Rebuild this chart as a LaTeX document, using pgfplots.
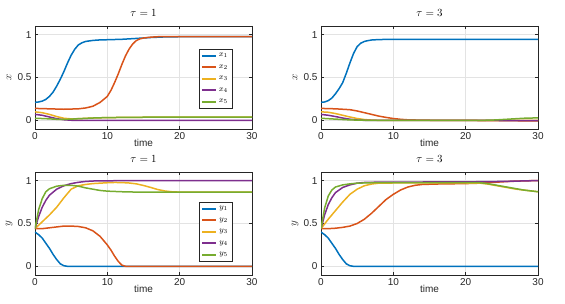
\documentclass[border=0pt]{standalone}
\usepackage{fontspec}
\setmainfont{Liberation Sans}
\usepackage{pgfplots}
\pgfplotsset{compat=1.18}
\definecolor{c1}{rgb}{0,0.447,0.741}
\definecolor{c2}{rgb}{0.85,0.325,0.098}
\definecolor{c3}{rgb}{0.929,0.694,0.125}
\definecolor{c4}{rgb}{0.494,0.184,0.556}
\definecolor{c5}{rgb}{0.466,0.674,0.188}
\definecolor{axc}{rgb}{0.15,0.15,0.15}
\pgfplotsset{
  mystyle/.style={
    scale only axis, width=217pt, height=103pt,
    xmin=0, xmax=30, ymin=-0.1, ymax=1.1,
    xtick={0,10,20,30}, ytick={0,0.5,1},
    yticklabels={0,0.5,1},
    grid=major, grid style={gray!22, line width=0.5pt},
    tick align=inside, major tick length=3pt,
    axis line style={axc, line width=0.6pt},
    tick style={axc, line width=0.5pt},
    ticklabel style={font=\fontsize{10}{11}\selectfont, text=axc},
    /pgf/number format/assume math mode=true,
    xlabel={time},
    xlabel style={font=\fontsize{10}{11}\selectfont, text=axc, at={(axis description cs:0.5,0)}, anchor=north, yshift=-6.5pt},
    ylabel style={font=\fontsize{11}{11}\selectfont, text=axc, at={(axis description cs:-0.12,0.5)}, anchor=center},
    title style={font=\fontsize{11}{12}\selectfont, at={(axis description cs:0.5,1)}, anchor=south, yshift=0pt},
    every axis plot/.append style={line width=1.5pt, no marks},
    legend cell align=left,
  },
  mylegend/.style={legend style={at={#1}, anchor=north east, font=\fontsize{8}{9}\selectfont, draw=axc, inner xsep=2pt, inner ysep=2pt, row sep=2.6pt,
     legend image code/.code={\draw[##1, line width=2pt] (0pt,0pt) -- (14pt,0pt);}}},
}
\begin{document}
\begin{tikzpicture}
\path[use as bounding box] (0,0) rectangle (565pt,303pt);
% top-left
\begin{axis}[mystyle, at={(35pt,174pt)}, anchor=south west, title={$\tau=1$}, ylabel={$x$}, mylegend={(0.908,0.777)}]
\addplot[c1] coordinates {(0,0.21)(0.5,0.215)(1,0.225)(1.5,0.245)(2,0.28)(2.5,0.33)(3,0.4)(3.5,0.48)(4,0.57)(4.5,0.67)(5,0.76)(5.5,0.83)(6,0.88)(6.5,0.905)(7,0.92)(8,0.932)(9,0.938)(10,0.94)(12,0.945)(14,0.955)(16,0.966)(18,0.973)(20,0.975)(30,0.975)};
\addplot[c2] coordinates {(0,0.14)(2,0.135)(4,0.13)(6,0.135)(7,0.145)(8,0.165)(9,0.21)(10,0.28)(10.5,0.35)(11,0.44)(11.5,0.54)(12,0.65)(12.5,0.75)(13,0.83)(13.5,0.89)(14,0.93)(14.5,0.95)(15,0.96)(16,0.97)(17,0.975)(30,0.975)};
\addplot[c3] coordinates {(0,0.1)(1,0.09)(2,0.07)(3,0.045)(4,0.025)(5,0.018)(6,0.02)(8,0.028)(10,0.033)(15,0.037)(20,0.038)(30,0.038)};
\addplot[c4] coordinates {(0,0.07)(1,0.06)(2,0.04)(3,0.02)(4,0.008)(5,0.002)(6,0)(30,0)};
\addplot[c5] coordinates {(0,0.025)(1,0.022)(2,0.018)(3,0.013)(4,0.012)(5,0.015)(6,0.02)(8,0.028)(10,0.033)(15,0.037)(20,0.038)(30,0.038)};
\legend{$x_1$,$x_2$,$x_3$,$x_4$,$x_5$}
\end{axis}
% top-right
\begin{axis}[mystyle, at={(321pt,174pt)}, anchor=south west, title={$\tau=3$}, ylabel={$x$}]
\addplot[c1] coordinates {(0,0.21)(0.5,0.215)(1,0.23)(1.5,0.26)(2,0.31)(2.5,0.37)(3,0.44)(3.5,0.55)(4,0.67)(4.5,0.78)(5,0.86)(5.5,0.9)(6,0.92)(6.5,0.93)(7,0.937)(8,0.942)(10,0.945)(30,0.945)};
\addplot[c2] coordinates {(0,0.14)(2,0.135)(3,0.13)(4,0.125)(5,0.11)(6,0.09)(7,0.07)(8,0.05)(9,0.035)(10,0.022)(11,0.013)(12,0.007)(14,0.003)(16,0.001)(20,0)(25,-0.003)(30,-0.005)};
\addplot[c3] coordinates {(0,0.1)(1,0.095)(2,0.08)(3,0.06)(4,0.04)(5,0.022)(6,0.01)(7,0.004)(8,0.001)(10,0)(30,0)};
\addplot[c4] coordinates {(0,0.07)(1,0.06)(2,0.045)(3,0.028)(4,0.014)(5,0.005)(6,0.001)(8,0)(22,0)(30,-0.003)};
\addplot[c5] coordinates {(0,0.025)(2,0.015)(4,0.006)(6,0.002)(8,0)(22,0)(24,0.005)(26,0.015)(28,0.025)(30,0.03)};
\end{axis}
% bottom-left
\begin{axis}[mystyle, at={(35pt,28pt)}, anchor=south west, title={$\tau=1$}, ylabel={$y$}, mylegend={(0.908,0.709)}]
\addplot[c1] coordinates {(0,0.4)(0.5,0.37)(1,0.33)(1.5,0.27)(2,0.21)(2.5,0.14)(3,0.08)(3.5,0.03)(4,0.008)(4.5,0.001)(5,0)(30,0)};
\addplot[c2] coordinates {(0,0.44)(1,0.44)(2,0.45)(3,0.46)(4,0.47)(5,0.47)(6,0.465)(7,0.45)(8,0.415)(9,0.35)(9.5,0.3)(10,0.25)(10.5,0.19)(11,0.12)(11.5,0.06)(12,0.015)(12.5,0.002)(13,0)(30,0)};
\addplot[c3] coordinates {(0,0.44)(1,0.52)(2,0.6)(3,0.69)(4,0.8)(5,0.9)(6,0.94)(7,0.955)(8,0.965)(10,0.975)(11,0.978)(12,0.977)(13,0.972)(14,0.962)(15,0.943)(16,0.92)(17,0.895)(18,0.878)(19,0.869)(20,0.866)(30,0.865)};
\addplot[c4] coordinates {(0,0.44)(0.5,0.58)(1,0.69)(1.5,0.77)(2,0.83)(3,0.9)(4,0.94)(5,0.965)(6,0.98)(7,0.99)(8,0.995)(10,0.998)(30,1)};
\addplot[c5] coordinates {(0,0.44)(0.5,0.66)(1,0.79)(1.5,0.87)(2,0.905)(3,0.935)(4,0.945)(5,0.945)(6,0.935)(7,0.915)(8,0.9)(9,0.885)(10,0.877)(12,0.87)(14,0.866)(20,0.865)(30,0.865)};
\legend{$y_1$,$y_2$,$y_3$,$y_4$,$y_5$}
\end{axis}
% bottom-right
\begin{axis}[mystyle, at={(321pt,28pt)}, anchor=south west, title={$\tau=3$}, ylabel={$y$}]
\addplot[c1] coordinates {(0,0.4)(0.5,0.37)(1,0.33)(1.5,0.27)(2,0.21)(2.5,0.14)(3,0.08)(3.5,0.03)(4,0.008)(4.5,0.001)(5,0)(30,0)};
\addplot[c2] coordinates {(0,0.44)(1,0.44)(2,0.445)(3,0.455)(4,0.47)(5,0.5)(6,0.55)(7,0.62)(8,0.7)(9,0.78)(10,0.84)(11,0.89)(12,0.925)(13,0.945)(14,0.955)(16,0.96)(20,0.965)(22,0.97)(24,0.98)(26,0.99)(28,0.997)(30,1)};
\addplot[c3] coordinates {(0,0.44)(1,0.55)(2,0.65)(3,0.75)(4,0.84)(5,0.9)(6,0.94)(7,0.96)(8,0.97)(10,0.972)(20,0.972)(22,0.97)(23,0.96)(24,0.945)(25,0.93)(26,0.915)(27,0.9)(28,0.89)(29,0.88)(30,0.87)};
\addplot[c4] coordinates {(0,0.44)(0.5,0.6)(1,0.72)(1.5,0.8)(2,0.86)(3,0.92)(4,0.95)(5,0.97)(6,0.978)(8,0.982)(20,0.985)(25,0.99)(30,1)};
\addplot[c5] coordinates {(0,0.44)(0.5,0.68)(1,0.82)(1.5,0.89)(2,0.925)(3,0.95)(4,0.962)(5,0.97)(7,0.975)(22,0.975)(23,0.965)(24,0.95)(25,0.935)(26,0.92)(27,0.905)(28,0.89)(29,0.88)(30,0.87)};
\end{axis}
\end{tikzpicture}
\end{document}
